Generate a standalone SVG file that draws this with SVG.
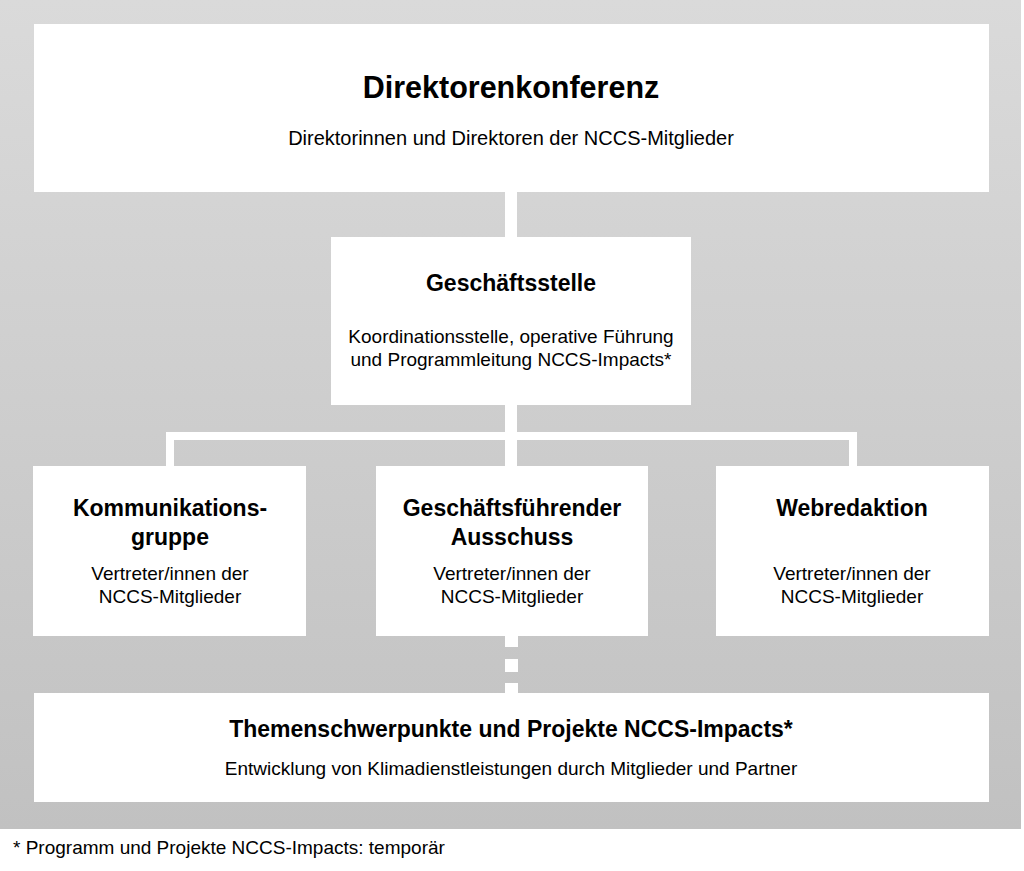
<svg xmlns="http://www.w3.org/2000/svg" width="1024" height="871" viewBox="0 0 1024 871">
<defs>
<linearGradient id="bg" x1="0" y1="0" x2="0" y2="1">
<stop offset="0" stop-color="#dadada"/>
<stop offset="1" stop-color="#c1c1c1"/>
</linearGradient>
</defs>
<style>
.box{fill:#ffffff}
.conn{fill:#ffffff}
.t{font-family:"Liberation Sans",Arial,sans-serif;fill:#000;text-anchor:middle}
.h1{font-size:30.5px;font-weight:bold}
.h2{font-size:23px;font-weight:bold}
.s{font-size:19px}
.s2{font-size:20px}
.fn{font-family:"Liberation Sans",Arial,sans-serif;font-size:19px;fill:#000}
</style>
<rect x="0" y="0" width="1024" height="871" fill="#ffffff"/>
<rect x="0" y="0" width="1021" height="829" fill="url(#bg)"/>
<g id="connectors">
<rect class="conn" x="505" y="192" width="12" height="45"/>
<rect class="conn" x="505" y="405" width="12" height="61"/>
<rect class="conn" x="166" y="432" width="691" height="8"/>
<rect class="conn" x="166" y="432" width="8" height="34"/>
<rect class="conn" x="849" y="432" width="8" height="34"/>
<rect class="conn" x="505" y="636" width="13" height="11"/>
<rect class="conn" x="505" y="659" width="13" height="13"/>
<rect class="conn" x="505" y="683" width="13" height="10"/>
</g>
<g id="direktorenkonferenz">
<rect class="box" x="34" y="24" width="955" height="168"/>
<text class="t h1" x="511" y="98">Direktorenkonferenz</text>
<text class="t s2" x="511" y="145">Direktorinnen und Direktoren der NCCS-Mitglieder</text>
</g>
<g id="geschaeftsstelle">
<rect class="box" x="331" y="237" width="360" height="168"/>
<text class="t h2" x="511" y="291">Geschäftsstelle</text>
<text class="t s" x="511" y="343">Koordinationsstelle, operative Führung</text>
<text class="t s" x="511" y="366">und Programmleitung NCCS-Impacts*</text>
</g>
<g id="kommunikationsgruppe">
<rect class="box" x="33" y="466" width="273" height="170"/>
<text class="t h2" x="170" y="516">Kommunikations-</text>
<text class="t h2" x="170" y="545">gruppe</text>
<text class="t s" x="170" y="580">Vertreter/innen der</text>
<text class="t s" x="170" y="603">NCCS-Mitglieder</text>
</g>
<g id="ausschuss">
<rect class="box" x="376" y="466" width="272" height="170"/>
<text class="t h2" x="512" y="516">Geschäftsführender</text>
<text class="t h2" x="512" y="545">Ausschuss</text>
<text class="t s" x="512" y="580">Vertreter/innen der</text>
<text class="t s" x="512" y="603">NCCS-Mitglieder</text>
</g>
<g id="webredaktion">
<rect class="box" x="716" y="466" width="273" height="170"/>
<text class="t h2" x="852" y="516">Webredaktion</text>
<text class="t s" x="852" y="580">Vertreter/innen der</text>
<text class="t s" x="852" y="603">NCCS-Mitglieder</text>
</g>
<g id="themenschwerpunkte">
<rect class="box" x="34" y="693" width="955" height="109"/>
<text class="t h2" x="511" y="737">Themenschwerpunkte und Projekte NCCS-Impacts*</text>
<text class="t s" x="511" y="775">Entwicklung von Klimadienstleistungen durch Mitglieder und Partner</text>
</g>
<text class="fn" x="13" y="854">* Programm und Projekte NCCS-Impacts: temporär</text>
</svg>
